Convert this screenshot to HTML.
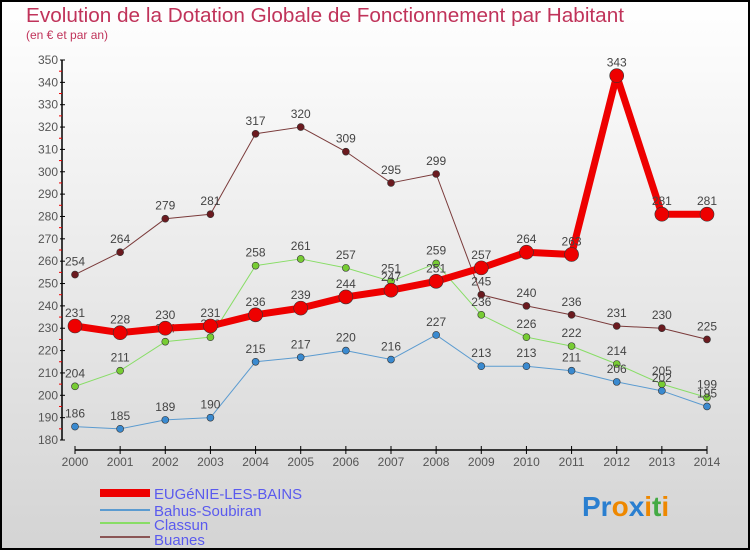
<!DOCTYPE html>
<html><head><meta charset="utf-8"><style>
html,body{margin:0;padding:0;width:750px;height:550px;overflow:hidden}
body{font-family:"Liberation Sans",sans-serif}
</style></head><body>
<svg id="chart" width="750" height="550" xmlns="http://www.w3.org/2000/svg">
<defs><linearGradient id="bg" x1="0" y1="0" x2="0" y2="1"><stop offset="0" stop-color="#ffffff"/><stop offset="1" stop-color="#d4d4d4"/></linearGradient></defs>
<rect x="1" y="1" width="748" height="548" fill="url(#bg)" stroke="#000" stroke-width="2"/>
<text x="26" y="22" font-size="20.5" fill="#c0335a" textLength="598" lengthAdjust="spacingAndGlyphs">Evolution de la Dotation Globale de Fonctionnement par Habitant</text>
<text x="26" y="39" font-size="12" fill="#c0335a">(en € et par an)</text>
<g id="axes"></g><g id="series"></g>
<g>
<rect x="100" y="489" width="50" height="8" fill="#ee0000"/>
<text x="154" y="499" font-size="15" fill="#5a5aee" textLength="148" lengthAdjust="spacingAndGlyphs">EUGéNIE-LES-BAINS</text>
<line x1="100" y1="510" x2="150" y2="510" stroke="#5b9bd0" stroke-width="2"/>
<text x="154" y="516" font-size="15" fill="#5a5aee">Bahus-Soubiran</text>
<line x1="100" y1="523" x2="150" y2="523" stroke="#88dd66" stroke-width="2"/>
<text x="154" y="530" font-size="15" fill="#5a5aee">Classun</text>
<line x1="100" y1="537" x2="150" y2="537" stroke="#8a5555" stroke-width="2"/>
<text x="154" y="545" font-size="15" fill="#5a5aee">Buanes</text>
</g>
<text x="582" y="516" font-size="28" font-weight="bold"><tspan fill="#2a7fd0">Pr</tspan><tspan fill="#ee8800">o</tspan><tspan fill="#2a7fd0">x</tspan><tspan fill="#ee8800">i</tspan><tspan fill="#44aa44">t</tspan><tspan fill="#ee8800">i</tspan></text>
</svg>
<script>
const years=[2000,2001,2002,2003,2004,2005,2006,2007,2008,2009,2010,2011,2012,2013,2014];
const yTicks=[180,190,200,210,220,230,240,250,260,270,280,290,300,310,320,330,340,350];
const eugenie=[231,228,230,231,236,239,244,247,251,257,264,263,343,281,281];
const bahus=[186,185,189,190,215,217,220,216,227,213,213,211,206,202,195];
const classun=[204,211,224,226,258,261,257,251,259,236,226,222,214,205,199];
const buanes=[254,264,279,281,317,320,309,295,299,245,240,236,231,230,225];
const NS="http://www.w3.org/2000/svg";
function X(i){return 75+i*(707-75)/(years.length-1);}
function Y(v){return 440-(v-180)*(380/170);}
function mk(t,a,p){const e=document.createElementNS(NS,t);for(const k in a)e.setAttribute(k,a[k]);p.appendChild(e);return e;}
const ax=document.getElementById('axes');
const yl=mk('line',{x1:62,y1:Y(350),x2:62,y2:Y(180),stroke:'#000','stroke-width':1.5},ax);


yTicks.forEach(v=>{
 mk('line',{x1:60,y1:Y(v),x2:65,y2:Y(v),stroke:'#000'},ax);
 if(v<350)mk('line',{x1:59,y1:Y(v+5),x2:62,y2:Y(v+5),stroke:'#e00'},ax);
 const t=mk('text',{x:58,y:Y(v)+4,'font-size':12,'text-anchor':'end',fill:'#555'},ax);t.textContent=v;
 
 
});
const xl=mk('line',{x1:X(0),y1:450,x2:X(14),y2:450,stroke:'#000','stroke-width':1.5},ax);


years.forEach((y,i)=>{
 mk('line',{x1:X(i),y1:446,x2:X(i),y2:454,stroke:'#000'},ax);
 const t=mk('text',{x:X(i),y:466,'font-size':12,'text-anchor':'middle',fill:'#555'},ax);t.textContent=y;
 
 
});
const sg=document.getElementById('series');
function draw(name,data,color,dot,w,r){
 const g=mk('g',{},sg);
 
 
 const pl=mk('polyline',{points:data.map((v,i)=>X(i)+','+Y(v)).join(' '),fill:'none',stroke:color,'stroke-width':w,'stroke-linejoin':'round'},g);
 
 
 data.forEach((v,i)=>{
  const c=mk('circle',{cx:X(i),cy:Y(v),r:r,fill:dot,stroke:'#333','stroke-width':0.6},g);
  
  
  const t=mk('text',{x:X(i),y:Y(v)-9,'font-size':12,'text-anchor':'middle',fill:'#444'},g);t.textContent=v;
  
  
 });
}
draw('buanes',buanes,'#7a3a3a','#6b1a1f',1,3.5);
draw('classun',classun,'#88dd66','#77cc33',1,3.5);
draw('bahus',bahus,'#5b9bd0','#3a8ad0',1,3.5);
draw('eugenie',eugenie,'#ee0000','#ee0000',7,7);
</script>
</body></html>
